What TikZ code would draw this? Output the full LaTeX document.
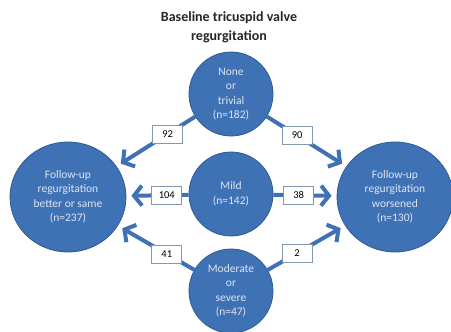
\documentclass[tikz,border=0pt]{standalone}
\usepackage{fontspec}
\setmainfont{Carlito}
\usetikzlibrary{arrows.meta,shapes.geometric}
\definecolor{fillc}{HTML}{3F71B5}
\definecolor{edgec}{HTML}{2E5A94}
\definecolor{txtc}{HTML}{DDE6F2}
\definecolor{boxc}{HTML}{8497B0}
\tikzset{
  circ/.style={circle,draw=edgec,fill=fillc,line width=0.8pt,minimum size=84pt,inner sep=0pt,align=center,text=txtc,font=\fontsize{11.5}{14.5}\selectfont},
  big/.style={circ,ellipse,minimum width=116pt,minimum height=110pt},
  ar/.style={-{Straight Barb[length=8pt,width=20pt]},line width=4pt,fillc,shorten >=5pt},
  numbox/.style={draw=boxc,fill=white,text=black,line width=0.7pt,minimum width=30pt,minimum height=18pt,inner sep=0pt,font=\fontsize{10.5}{12}\selectfont}
}
\begin{document}
\begin{tikzpicture}[x=1pt,y=-1pt]
\useasboundingbox (0,0) rectangle (451,332);
\node[font=\fontsize{14}{19}\selectfont\bfseries,text=black!85,align=center] (title) at (229,27) {Baseline tricuspid valve\\regurgitation};
% baseline groups
\node[circ] (none) at (231,94) {None\\or\\trivial\\(n=182)};
\node[circ] (mild) at (231,194) {Mild\\(n=142)};
\node[circ] (mod) at (231,291) {Moderate\\or\\severe\\(n=47)};
% follow-up groups
\node[big] (better) at (68,197) {Follow-up\\regurgitation\\better or same\\(n=237)};
\node[big] (worse) at (395,197) {Follow-up\\regurgitation\\worsened\\(n=130)};
% transitions
\draw[ar] (none) -- node[numbox,pos=0.35]{92} (better);
\draw[ar] (mild) -- node[numbox,pos=0.35]{104} (better);
\draw[ar] (mod) -- node[numbox,pos=0.36]{41} (better);
\draw[ar] (none) -- node[numbox,pos=0.38]{90} (worse);
\draw[ar] (mild) -- node[numbox,pos=0.4]{38} (worse);
\draw[ar] (mod) -- node[numbox,pos=0.38]{2} (worse);
\end{tikzpicture}
\end{document}
